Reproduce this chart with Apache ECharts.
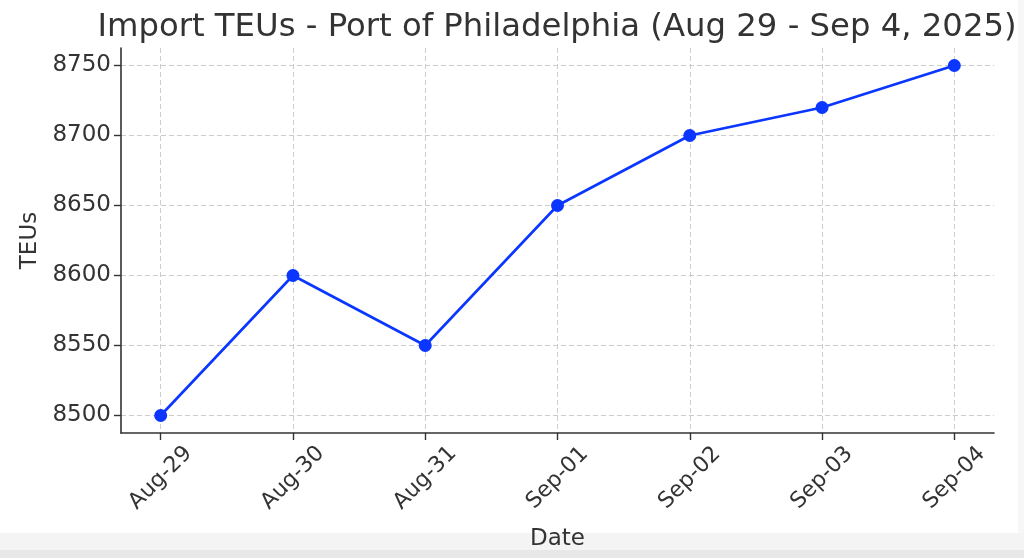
<!DOCTYPE html>
<html><head><meta charset="utf-8">
<script src="https://cdn.jsdelivr.net/npm/echarts@6/dist/echarts.min.js"></script>
<style>html,body{margin:0;padding:0;background:#fff}#c{width:1024px;height:558px}</style>
</head><body><div id="c"></div>
<script>
const categories = ['Aug-29','Aug-30','Aug-31','Sep-01','Sep-02','Sep-03','Sep-04'];
const teus = [8500, 8600, 8550, 8650, 8700, 8720, 8750];
const yTicks = [8500, 8550, 8600, 8650, 8700, 8750];
const titleText = 'Import TEUs - Port of Philadelphia (Aug 29 - Sep 4, 2025)';

const chart = echarts.init(document.getElementById('c'), null, {renderer:'canvas'});
const idx = categories.map((_, i) => i);
const font = 'DejaVu Sans';
chart.setOption({
  animation: false,
  backgroundColor: '#ffffff',
  title: {
    text: titleText, left: 552, top: 7, textAlign: 'center',
    textStyle: {fontFamily: font, fontWeight: 'normal', fontSize: 32.3, color: '#333333'}
  },
  graphic: [
    {type:'rect', shape:{x:0,y:533,width:1024,height:25}, style:{fill:'#f4f4f4'}, silent:true, z:-10},
    {type:'rect', shape:{x:0,y:550,width:1024,height:8}, style:{fill:'#e8e8e8'}, silent:true, z:-10},
    {type:'rect', shape:{x:1018,y:0,width:6,height:533}, style:{fill:'#f7f7f7'}, silent:true, z:-10}
  ],
  grid: {left: 121, right: 30, top: 48, bottom: 125, containLabel: false},
  xAxis: {
    type: 'value', min: -0.3, max: 6.3,
    name: 'Date', nameLocation: 'middle', nameGap: 95,
    nameTextStyle: {fontFamily: font, fontSize: 23, color: '#333'},
    axisLine: {show: true, onZero: false, lineStyle: {color: '#333', width: 1.6}},
    axisTick: {show: true, length: 7, lineStyle: {color: '#333', width: 1.4}, customValues: idx},
    axisLabel: {
      customValues: idx, rotate: 45, margin: 45, align: 'center', verticalAlign: 'middle',
      fontFamily: font, fontSize: 22, color: '#333',
      formatter: v => categories[Math.round(v)] || ''
    },
    splitLine: {show: true, lineStyle: {color: '#cccccc', type: [5, 3], width: 1}}
  },
  yAxis: {
    type: 'value', min: 8487.5, max: 8762.5,
    name: 'TEUs', nameLocation: 'middle', nameGap: 77, nameRotate: 90,
    nameTextStyle: {fontFamily: font, fontSize: 23, color: '#333'},
    axisLine: {show: true, onZero: false, lineStyle: {color: '#333', width: 1.6}},
    axisTick: {show: true, length: 7, lineStyle: {color: '#333', width: 1.4}, customValues: yTicks},
    axisLabel: {customValues: yTicks, margin: 10, fontFamily: font, fontSize: 23, color: '#333',
      formatter: v => String(v)},
    splitLine: {show: true, lineStyle: {color: '#cccccc', type: [5, 3], width: 1}}
  },
  series: [{
    type: 'line',
    data: teus.map((v, i) => [i, v]),
    symbol: 'circle', symbolSize: 13,
    lineStyle: {color: '#0a36ff', width: 2.6},
    itemStyle: {color: '#0a36ff'},
    clip: false
  }]
});
</script></body></html>
